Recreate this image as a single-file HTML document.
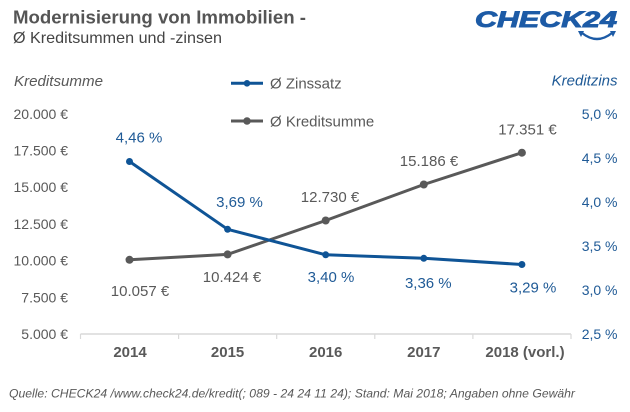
<!DOCTYPE html>
<html>
<head>
<meta charset="utf-8">
<style>
  html, body { margin: 0; padding: 0; background: #ffffff; }
  svg { display: block; }
  text { font-family: "Liberation Sans", Arial, sans-serif; }
</style>
</head>
<body>
<svg width="630" height="412" viewBox="0 0 630 412" xmlns="http://www.w3.org/2000/svg">
  <rect x="0" y="0" width="630" height="412" fill="#ffffff"/>

  <!-- Title -->
  <text x="13" y="23.5" font-size="18" font-weight="bold" fill="#555555" textLength="293" lengthAdjust="spacingAndGlyphs">Modernisierung von Immobilien -</text>
  <text x="13" y="42.8" font-size="16" fill="#444444" textLength="209" lengthAdjust="spacingAndGlyphs">Ø Kreditsummen und -zinsen</text>

  <!-- Logo -->
  <text x="475" y="27" font-size="22" font-weight="bold" font-style="italic" fill="#1d5ba6" stroke="#1d5ba6" stroke-width="0.9" textLength="142" lengthAdjust="spacingAndGlyphs">CHECK24</text>
  <path d="M582 33 Q597 45 612 33" fill="none" stroke="#1d5ba6" stroke-width="2.4"/>
  <path d="M578 31 L584 31 L581 37 Z" fill="#1d5ba6"/>
  <path d="M616 31 L610 31 L613 37 Z" fill="#1d5ba6"/>

  <!-- Axis titles -->
  <text x="14" y="86" font-size="15" font-style="italic" fill="#595959" textLength="89" lengthAdjust="spacingAndGlyphs">Kreditsumme</text>
  <text x="617.5" y="85.5" font-size="15" font-style="italic" fill="#1f5a96" text-anchor="end">Kreditzins</text>

  <!-- Legend -->
  <line x1="231" y1="83.3" x2="263" y2="83.3" stroke="#0f5496" stroke-width="3"/>
  <circle cx="247" cy="83.3" r="3.3" fill="#0f5496"/>
  <text x="270" y="88.5" font-size="15" fill="#595959">Ø Zinssatz</text>
  <line x1="231" y1="121" x2="263" y2="121" stroke="#595959" stroke-width="3"/>
  <circle cx="247" cy="121" r="3.8" fill="#595959"/>
  <text x="270" y="126.3" font-size="15" fill="#595959">Ø Kreditsumme</text>

  <!-- Left axis labels -->
  <g font-size="14" fill="#595959" text-anchor="end">
    <text x="68" y="118.8">20.000 €</text>
    <text x="68" y="155.5">17.500 €</text>
    <text x="68" y="192.2">15.000 €</text>
    <text x="68" y="228.9">12.500 €</text>
    <text x="68" y="265.6">10.000 €</text>
    <text x="68" y="302.3">7.500 €</text>
    <text x="68" y="339">5.000 €</text>
  </g>

  <!-- Right axis labels -->
  <g font-size="14" fill="#1f5a96" text-anchor="end">
    <text x="617.5" y="119">5,0 %</text>
    <text x="617.5" y="163">4,5 %</text>
    <text x="617.5" y="207">4,0 %</text>
    <text x="617.5" y="251">3,5 %</text>
    <text x="617.5" y="295">3,0 %</text>
    <text x="617.5" y="339">2,5 %</text>
  </g>

  <!-- X axis -->
  <line x1="80.5" y1="334" x2="571" y2="334" stroke="#d9d9d9" stroke-width="1.5"/>
  <g stroke="#d9d9d9" stroke-width="1.2">
    <line x1="80.5" y1="334" x2="80.5" y2="339"/>
    <line x1="178.6" y1="334" x2="178.6" y2="339"/>
    <line x1="276.7" y1="334" x2="276.7" y2="339"/>
    <line x1="374.8" y1="334" x2="374.8" y2="339"/>
    <line x1="472.9" y1="334" x2="472.9" y2="339"/>
    <line x1="571" y1="334" x2="571" y2="339"/>
  </g>
  <g font-size="15" font-weight="bold" fill="#595959" text-anchor="middle">
    <text x="130" y="357">2014</text>
    <text x="227.6" y="357">2015</text>
    <text x="325.7" y="357">2016</text>
    <text x="423.8" y="357">2017</text>
    <text x="525" y="357">2018 (vorl.)</text>
  </g>

  <!-- Kreditsumme series -->
  <polyline points="129.5,259.8 227.6,254.4 325.7,220.5 423.8,184.5 521.9,152.7" fill="none" stroke="#595959" stroke-width="3" stroke-linejoin="round"/>
  <g fill="#595959">
    <circle cx="129.5" cy="259.8" r="4"/>
    <circle cx="227.6" cy="254.4" r="4"/>
    <circle cx="325.7" cy="220.5" r="4"/>
    <circle cx="423.8" cy="184.5" r="4"/>
    <circle cx="521.9" cy="152.7" r="4"/>
  </g>

  <!-- Zinssatz series -->
  <polyline points="129.5,161.5 227.6,229.3 325.7,254.8 423.8,258.3 521.9,264.5" fill="none" stroke="#0f5496" stroke-width="3" stroke-linejoin="round"/>
  <g fill="#0f5496">
    <circle cx="129.5" cy="161.5" r="3.5"/>
    <circle cx="227.6" cy="229.3" r="3.5"/>
    <circle cx="325.7" cy="254.8" r="3.5"/>
    <circle cx="423.8" cy="258.3" r="3.5"/>
    <circle cx="521.9" cy="264.5" r="3.5"/>
  </g>

  <!-- Data labels: Zinssatz -->
  <g font-size="15" fill="#1f5a96" text-anchor="middle">
    <text x="139" y="142.5">4,46 %</text>
    <text x="239.5" y="207">3,69 %</text>
    <text x="331" y="282">3,40 %</text>
    <text x="428.3" y="288">3,36 %</text>
    <text x="533" y="292.7">3,29 %</text>
  </g>

  <!-- Data labels: Kreditsumme -->
  <g font-size="15" fill="#595959" text-anchor="middle">
    <text x="140" y="296">10.057 €</text>
    <text x="232" y="282">10.424 €</text>
    <text x="330" y="202">12.730 €</text>
    <text x="429" y="166">15.186 €</text>
    <text x="527.5" y="134.7">17.351 €</text>
  </g>

  <!-- Source -->
  <text x="9" y="397.5" font-size="12" font-style="italic" fill="#595959" textLength="566" lengthAdjust="spacingAndGlyphs">Quelle: CHECK24 /www.check24.de/kredit(; 089 - 24 24 11 24); Stand: Mai 2018; Angaben ohne Gewähr</text>
</svg>
</body>
</html>
